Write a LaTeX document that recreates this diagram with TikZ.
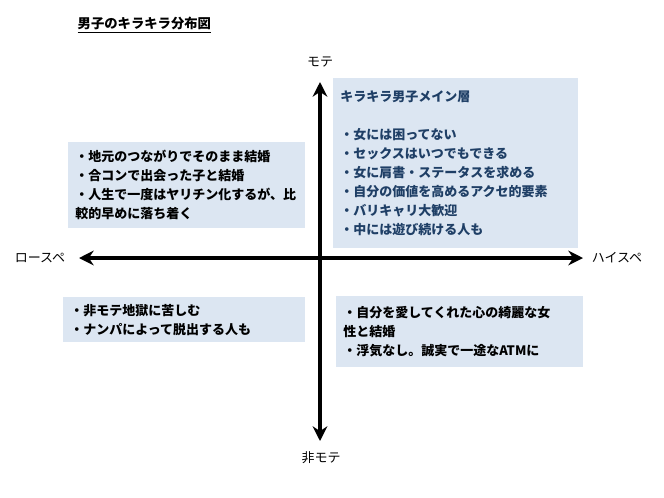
\documentclass[tikz,border=0pt]{standalone}
\usepackage{fontspec}
\newfontfamily\jpfont{Noto Sans CJK JP}
\usetikzlibrary{arrows.meta}
\definecolor{boxFill}{HTML}{DCE6F2}
\definecolor{mainText}{HTML}{1F3F66}

\begin{document}
\begin{tikzpicture}[
    x=0.75pt, y=-0.75pt,
    quad/.style={fill=boxFill, anchor=north west, align=left,
                 font=\jpfont\bfseries\fontsize{9.75}{14.25}\selectfont,
                 inner xsep=5.25pt, inner ysep=0pt},
    axislabel/.style={font=\jpfont\fontsize{9.75}{12}\selectfont},
    axis/.style={{Stealth[length=11pt,width=11pt]}-{Stealth[length=11pt,width=11pt]},
                 line width=3pt},
]
\useasboundingbox (0,0) rectangle (664,497);

\node[font=\jpfont\bfseries\fontsize{10}{12}\selectfont, anchor=west] (title) at (73,25)
    {\underline{男子のキラキラ分布図}};

\node[quad, text=mainText, text width=173.25pt, minimum height=127.5pt] (main) at (333,78)
    {キラキラ男子メイン層\\[14.25pt]
     ・女には困ってない\\
     ・セックスはいつでもできる\\
     ・女に肩書・ステータスを求める\\
     ・自分の価値を高めるアクセ的要素\\
     ・バリキャリ大歓迎\\
     ・中には遊び続ける人も};
\node[quad, text width=167.25pt, minimum height=64.5pt] (local) at (68,142)
    {・地元のつながりでそのまま結婚\\
     ・合コンで出会った子と結婚\\
     ・人生で一度はヤリチン化するが、比\\
     較的早めに落ち着く};
\node[quad, text width=171pt, minimum height=33.75pt] (himote) at (63,297)
    {・非モテ地獄に苦しむ\\
     ・ナンパによって脱出する人も};
\node[quad, text width=174.75pt, minimum height=53.25pt] (atm) at (336,296)
    {・自分を愛してくれた心の綺麗な女\\
     性と結婚\\
     ・浮気なし。誠実で一途なATMに};

\node[axislabel] (mote) at (320,62) {モテ};
\node[axislabel] (nonmote) at (321,458) {非モテ};
\node[axislabel] (lowspec) at (40,258) {ロースペ};
\node[axislabel] (highspec) at (617,258) {ハイスペ};

\coordinate (vtop) at (320,82);
\coordinate (vbot) at (320,441);
\coordinate (hleft) at (79,258);
\coordinate (hright) at (583,258);

\draw[axis] (vtop) -- (vbot);
\draw[axis] (hleft) -- (hright);
\end{tikzpicture}
\end{document}
